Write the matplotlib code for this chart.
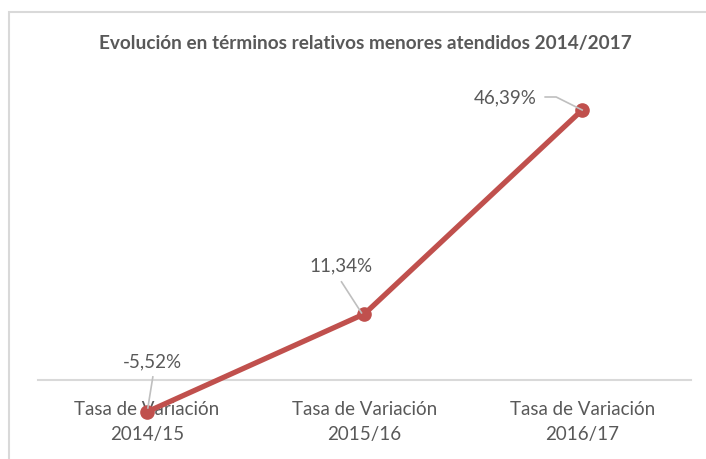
import matplotlib.pyplot as plt
from matplotlib.patches import Rectangle

categories = ['Tasa de Variación\n2014/15', 'Tasa de Variación\n2015/16', 'Tasa de Variación\n2016/17']
values = [-5.52, 11.34, 46.39]
value_labels = ['-5,52%', '11,34%', '46,39%']

title = 'Evolución en términos relativos menores atendidos 2014/2017'

# label offsets (pixels) and leader line paths relative to each point
label_offsets = [(6, 50), (-23, 48), (-77, 12)]
leaders = [[(6, 35), (1, 4)],
           [(-23, 32), (-3, 1)],
           [(-37, 13), (-26, 13), (0, 0)]]

W, H = 706, 459
fig = plt.figure(figsize=(W / 100, H / 100), dpi=100)
plt.rcParams['font.family'] = ['Lato', 'DejaVu Sans']

txt_col = '#595959'
line_col = '#C0504D'
grid_col = '#D9D9D9'
leader_col = '#BFBFBF'

# chart border (cut by the image on right and bottom)
fig.patches.append(Rectangle((9 / W, -0.1), 2, 1.1 - 12 / H, transform=fig.transFigure,
                             fill=False, edgecolor=grid_col, linewidth=1.5))

ax = fig.add_axes([38 / W, 1 - 438 / H, (691 - 38) / W, (438 - 89) / H])
ax.set_xlim(-0.5, len(categories) - 0.5)
ax.set_ylim(-10, 50)

x = list(range(len(categories)))
ax.plot(x, values, color=line_col, linewidth=3.8, marker='o', markersize=9.5,
        solid_capstyle='round', zorder=3)

for s in ['top', 'right', 'left']:
    ax.spines[s].set_visible(False)
ax.spines['bottom'].set_position(('data', 0))
ax.spines['bottom'].set_color(grid_col)
ax.spines['bottom'].set_linewidth(1.5)
ax.set_yticks([])
ax.set_xticks(x)
ax.set_xticklabels(categories, fontsize=13.5, color=txt_col, linespacing=1.6)
ax.tick_params(axis='x', length=0, pad=15)
ax.patch.set_visible(False)

fig.canvas.draw()
for xi, v, lab, off, path in zip(x, values, value_labels, label_offsets, leaders):
    ax.annotate(lab, xy=(xi, v), xytext=off, textcoords='offset pixels',
                ha='center', va='center', fontsize=13.5, color=txt_col, zorder=4)
    px, py = ax.transData.transform((xi, v))
    xs = [(px + a) / W for a, b in path]
    ys = [(py + b) / H for a, b in path]
    fig.lines.append(plt.Line2D(xs, ys, transform=fig.transFigure,
                                color=leader_col, lw=1.2, zorder=4))

fig.text(365 / W, 1 - 44 / H, title, ha='center', va='center', fontsize=13.7,
         fontweight='bold', color=txt_col)

fig.savefig('out.png', dpi=100)
